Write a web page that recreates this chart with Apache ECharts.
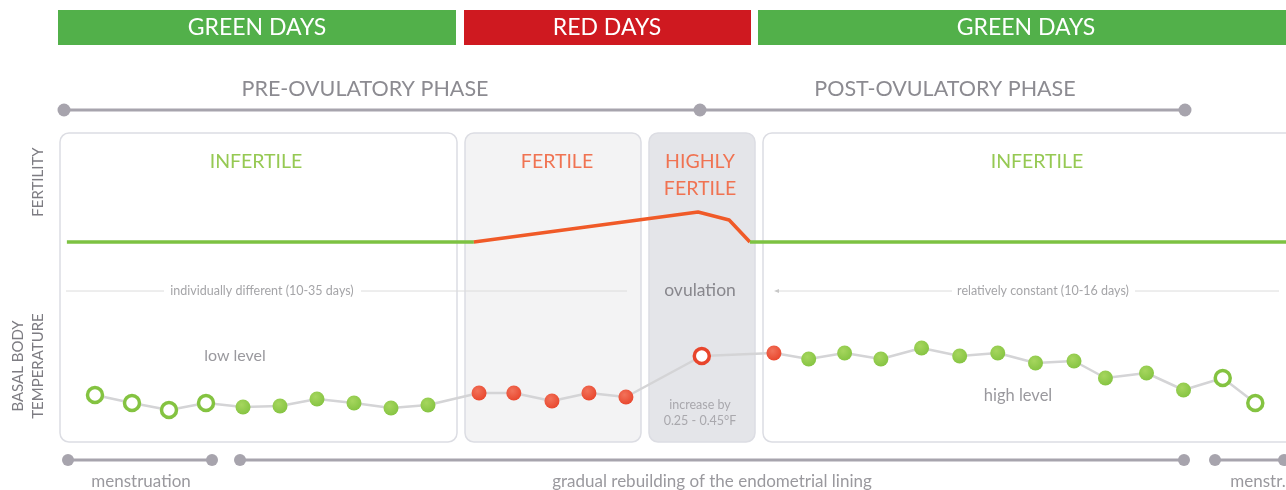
<!DOCTYPE html>
<html>
<head>
<meta charset="utf-8">
<script src="https://cdn.jsdelivr.net/npm/echarts@6/dist/echarts.min.js"></script>
<style>
  html, body { margin: 0; padding: 0; background: #fff; }
  #chart { width: 1286px; height: 490px; }
</style>
</head>
<body>
<div id="chart"></div>
<script>
// cycle position (days) and basal body temperature (°F)
const tempDay = [1, 2, 3, 4, 5, 6, 7, 8, 9, 10,
  11.38, 12.32, 13.35, 14.35, 15.35,
  17.4,
  19.35, 20.29, 21.26, 22.24, 23.34, 24.37, 25.4, 26.42, 27.46, 28.31, 29.42, 30.42, 31.48, 32.36];
const tempValue = [96.98, 96.9, 96.83, 96.9, 96.86, 96.87, 96.94, 96.9, 96.85, 96.88,
  97.0, 97.0, 96.92, 97.0, 96.96,
  97.37,
  97.4, 97.34, 97.4, 97.34, 97.45, 97.37, 97.4, 97.3, 97.32, 97.15, 97.2, 97.03, 97.15, 96.9];
// 1 = red (fertile) day
const redDay = [0, 0, 0, 0, 0, 0, 0, 0, 0, 0,
  1, 1, 1, 1, 1,
  1,
  1, 0, 0, 0, 0, 0, 0, 0, 0, 0, 0, 0, 0, 0];
// 1 = menstruation / ovulation day (ring marker)
const eventDay = [1, 1, 1, 1, 0, 0, 0, 0, 0, 0,
  0, 0, 0, 0, 0,
  1,
  0, 0, 0, 0, 0, 0, 0, 0, 0, 0, 0, 0, 1, 1];

// fertility level (relative, 0 = baseline)
const fertDayLow1 = [0.24, 11.24];
const fertDayHigh = [11.24, 17.3, 18.14, 18.7];
const fertValHigh = [0, 30, 22, 0];
const fertDayLow2 = [18.7, 33.19];

const GREEN = '#84c341';
const RED = '#e8452c';
const GRAY_TXT = '#8c8b91';

const chart = echarts.init(document.getElementById('chart'));

const tempData = tempDay.map((d, i) => {
  const c = redDay[i] ? RED : GREEN;
  const light = redDay[i] ? '#f2725a' : '#a6d65e';
  const style = eventDay[i]
    ? { color: '#fff', borderColor: c, borderWidth: 3.5 }
    : {
        color: new echarts.graphic.RadialGradient(0.4, 0.35, 0.7, [
          { offset: 0, color: light }, { offset: 1, color: c }
        ]),
        borderWidth: 0
      };
  return { value: [d, tempValue[i]], itemStyle: style };
});

function txt(text, x, y, size, color, extra) {
  return Object.assign({
    type: 'text', z: 100,
    style: {
      text: text, x: x, y: y, fill: color,
      font: size + 'px Lato', textAlign: 'center', textVerticalAlign: 'middle'
    }
  }, extra || {});
}
// rotated text, reading bottom to top
function vtxt(text, x, y, size, color) {
  return {
    type: 'text', z: 100, x: x, y: y, rotation: Math.PI / 2,
    style: {
      text: text, x: 0, y: 0, fill: color, lineHeight: 20,
      font: size + 'px Lato', textAlign: 'center', textVerticalAlign: 'middle'
    }
  };
}
function hline(x1, x2, y, color, w, z) {
  return { type: 'line', z: z || 5, shape: { x1: x1, y1: y, x2: x2, y2: y }, style: { stroke: color, lineWidth: w } };
}
function dot(x, y, r, color) {
  return { type: 'circle', z: 6, shape: { cx: x, cy: y, r: r }, style: { fill: color } };
}
function panel(x, w, fill) {
  return { type: 'rect', z: 0, shape: { x: x, y: 133, width: w, height: 309, r: 9 },
    style: { fill: fill, stroke: '#dcdde3', lineWidth: 1.5 } };
}

const lineGray = '#a7a4ad';

const graphics = [
  // header bars
  { type: 'rect', z: 1, shape: { x: 58, y: 10, width: 398, height: 35 }, style: { fill: '#52b04a' } },
  { type: 'rect', z: 1, shape: { x: 464, y: 10, width: 287, height: 35 }, style: { fill: '#cf1920' } },
  { type: 'rect', z: 1, shape: { x: 758, y: 10, width: 530, height: 35 }, style: { fill: '#52b04a' } },
  txt('GREEN DAYS', 257, 28, 23, '#fff'),
  txt('RED DAYS', 607, 28, 23, '#fff'),
  txt('GREEN DAYS', 1026, 28, 23, '#fff'),
  // phases
  txt('PRE-OVULATORY PHASE', 365, 89, 21.5, GRAY_TXT),
  txt('POST-OVULATORY PHASE', 945, 89, 21.5, GRAY_TXT),
  hline(64, 1185, 110, lineGray, 3),
  dot(64, 110, 6.5, lineGray), dot(700, 110, 6.5, lineGray), dot(1185, 110, 6.5, lineGray),
  // panels
  panel(60, 397, '#ffffff'),
  panel(465, 176, '#f3f3f4'),
  panel(649, 106, '#e4e5e9'),
  panel(763, 540, '#ffffff'),
  txt('INFERTILE', 256, 162, 19.5, '#96c953'),
  txt('FERTILE', 557, 162, 19.5, '#f07352'),
  txt('HIGHLY', 700, 162, 19.5, '#f07352'),
  txt('FERTILE', 700, 189, 19.5, '#f07352'),
  txt('INFERTILE', 1037, 162, 19.5, '#96c953'),
  // side labels
  vtxt('FERTILITY', 38, 182, 15, '#7d7c82'),
  vtxt('BASAL BODY\nTEMPERATURE', 28, 366, 15, '#7d7c82'),
  // cycle length notes
  hline(66, 164, 291, '#dcdcdc', 1, 3),
  hline(361, 627, 291, '#dcdcdc', 1, 3),
  txt('individually different (10-35 days)', 262, 291, 12.5, '#a5a5a8'),
  hline(776, 952, 291, '#dcdcdc', 1, 3),
  hline(1135, 1279, 291, '#dcdcdc', 1, 3),
  { type: 'polygon', z: 3, shape: { points: [[774, 291], [779, 289], [779, 293]] }, style: { fill: '#c8c8c8' } },
  txt('relatively constant (10-16 days)', 1043, 291, 12.5, '#a5a5a8'),
  txt('ovulation', 700, 290, 17.5, '#88878d'),
  txt('low level', 235, 356, 16, '#9a999e'),
  txt('high level', 1018, 396, 16.5, '#9a999e'),
  txt('increase by', 700, 405, 12.5, '#a9a8ad'),
  txt('0.25 - 0.45°F', 700, 421, 12.5, '#a9a8ad'),
  // bottom timeline
  hline(68, 212, 460, lineGray, 3),
  dot(68, 460, 6, lineGray), dot(212, 460, 6, lineGray),
  hline(240, 1184, 460, lineGray, 3),
  dot(240, 460, 6, lineGray), dot(1184, 460, 6, lineGray),
  hline(1215, 1284, 460, lineGray, 3),
  dot(1215, 460, 6, lineGray), dot(1284, 460, 6, lineGray),
  txt('menstruation', 141, 482, 17, '#9a999e'),
  txt('gradual rebuilding of the endometrial lining', 712, 482, 17, '#9a999e'),
  txt('menstr.', 1258, 482, 17, '#9a999e')
];

const option = {
  animation: false,
  grid: { left: 58, right: 0, top: 133, bottom: 48 },
  xAxis: { type: 'value', min: 0, max: 33.19, show: false },
  yAxis: [
    { type: 'value', min: 96.51, max: 99.6, show: false },
    { type: 'value', min: -200, max: 109, show: false }
  ],
  graphic: graphics,
  series: [
    {
      name: 'fertility', type: 'line', yAxisIndex: 1, z: 4, symbol: 'none',
      lineStyle: { color: '#7dc242', width: 3.5 },
      data: fertDayLow1.map(d => [d, 0])
    },
    {
      name: 'fertility high', type: 'line', yAxisIndex: 1, z: 4, symbol: 'none',
      lineStyle: { color: '#f05a28', width: 3.5 },
      data: fertDayHigh.map((d, i) => [d, fertValHigh[i]])
    },
    {
      name: 'fertility2', type: 'line', yAxisIndex: 1, z: 4, symbol: 'none',
      lineStyle: { color: '#7dc242', width: 3.5 },
      data: fertDayLow2.map(d => [d, 0])
    },
    {
      name: 'temperature', type: 'line', yAxisIndex: 0, z: 5,
      symbol: 'circle', symbolSize: 15, showSymbol: true,
      lineStyle: { color: '#d4d4d6', width: 2.5 },
      data: tempData
    }
  ]
};
chart.setOption(option);
</script>
</body>
</html>
